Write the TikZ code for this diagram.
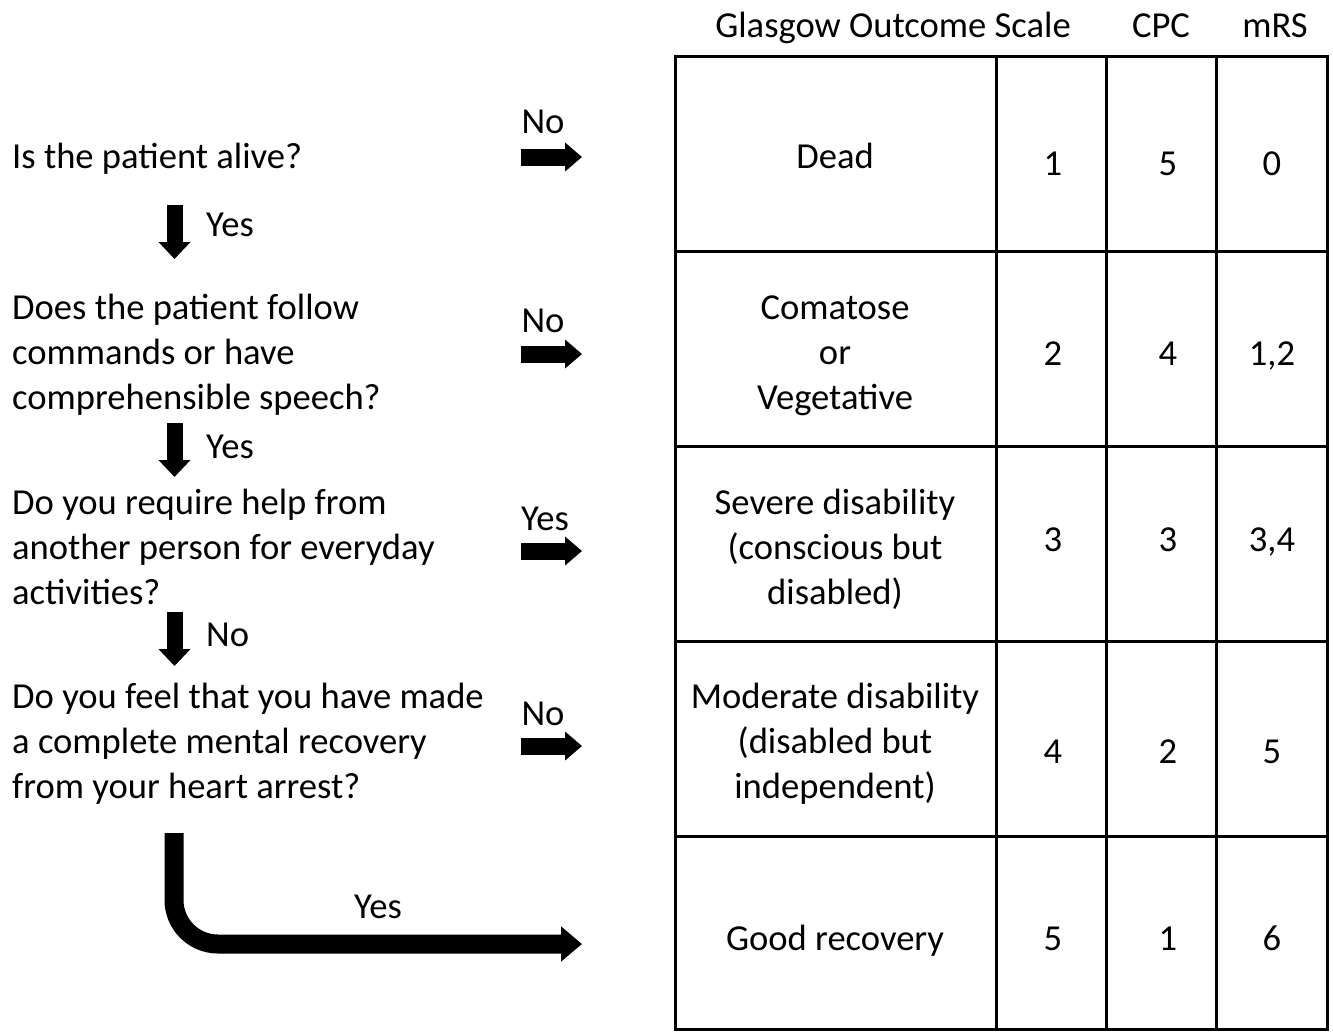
\documentclass[tikz,border=0pt]{standalone}
\usepackage{fontspec}
\setmainfont{Carlito}
\usetikzlibrary{arrows.meta}
\begin{document}
\begin{tikzpicture}[x=1pt,y=-1pt,
  every node/.style={inner sep=0pt, font=\fontsize{36.6}{44.7}\selectfont},
  qtext/.style={anchor=base west, align=left},
  ctext/.style={anchor=base, align=center},
  downarrow/.style={line width=16pt, -{Triangle[width=31pt,length=17pt]}},
  rightarrow/.style={line width=17pt, -{Triangle[width=28pt,length=17pt]}},
  bigarrow/.style={line width=19pt, rounded corners=44pt, -{Triangle[width=34pt,length=21pt]}},
  grid/.style={line width=3pt}]
\useasboundingbox (0,0) rectangle (1333,1031);

% questions (multi-line nodes: base = baseline of last line)
\node[qtext] (q1) at (12,168) {Is the patient alive?};
\node[qtext] (q2) at (12,409) {Does the patient follow\\commands or have\\comprehensible speech?};
\node[qtext] (q3) at (12,604) {Do you require help from\\another person for everyday\\activities?};
\node[qtext] (q4) at (12,798) {Do you feel that you have made\\a complete mental recovery\\from your heart arrest?};

% down arrows
\coordinate (d1s) at (174.5,205); \coordinate (d1e) at (174.5,259);
\coordinate (d2s) at (174.5,423); \coordinate (d2e) at (174.5,477);
\coordinate (d3s) at (174.5,612); \coordinate (d3e) at (174.5,666);
\draw[downarrow] (d1s) -- (d1e);
\draw[downarrow] (d2s) -- (d2e);
\draw[downarrow] (d3s) -- (d3e);
\node[qtext] (l1) at (206,236) {Yes};
\node[qtext] (l2) at (206,458) {Yes};
\node[qtext] (l3) at (206,646) {No};

% right arrows
\coordinate (r1s) at (521,157); \coordinate (r1e) at (582,157);
\coordinate (r2s) at (521,354); \coordinate (r2e) at (582,354);
\coordinate (r3s) at (521,551); \coordinate (r3e) at (582,551);
\coordinate (r4s) at (521,746); \coordinate (r4e) at (582,746);
\draw[rightarrow] (r1s) -- (r1e);
\draw[rightarrow] (r2s) -- (r2e);
\draw[rightarrow] (r3s) -- (r3e);
\draw[rightarrow] (r4s) -- (r4e);
\node[ctext] (n1) at (543,133) {No};
\node[ctext] (n2) at (543,332) {No};
\node[ctext] (n3) at (545,530) {Yes};
\node[ctext] (n4) at (543,725) {No};

% big L arrow
\coordinate (Ls) at (174,833); \coordinate (Le) at (582,944);
\draw[bigarrow] (Ls) |- (Le);
\node[ctext] (ly) at (378,918) {Yes};

% table header
\node[ctext] (h1) at (893,37) {Glasgow Outcome Scale};
\node[ctext] (h2) at (1161,37) {CPC};
\node[ctext] (h3) at (1275,37) {mRS};

% table grid
\draw[grid] (675,56) rectangle (1327,1029);
\foreach \x in {996,1106,1216} \draw[grid] (\x,56) -- (\x,1029);
\foreach \y in {251,446,641,836} \draw[grid] (675,\y) -- (1327,\y);

% table cells
\node[ctext] (c11) at (835,168.5) {Dead};
\node[ctext] (c21) at (835,409) {Comatose\\or\\Vegetative};
\node[ctext] (c31) at (835,604) {Severe disability\\(conscious but\\disabled)};
\node[ctext] (c41) at (835,798) {Moderate disability\\(disabled but\\independent)};
\node[ctext] (c51) at (835,950.5) {Good recovery};

\node[ctext] (c12) at (1053,175.5) {1};
\node[ctext] (c13) at (1168,175.5) {5};
\node[ctext] (c14) at (1272,175.5) {0};
\node[ctext] (c22) at (1053,365.5) {2};
\node[ctext] (c23) at (1168,365.5) {4};
\node[ctext] (c24) at (1272,365.5) {1,2};
\node[ctext] (c32) at (1053,551.5) {3};
\node[ctext] (c33) at (1168,551.5) {3};
\node[ctext] (c34) at (1272,551.5) {3,4};
\node[ctext] (c42) at (1053,763.5) {4};
\node[ctext] (c43) at (1168,763.5) {2};
\node[ctext] (c44) at (1272,763.5) {5};
\node[ctext] (c52) at (1053,950.5) {5};
\node[ctext] (c53) at (1168,950.5) {1};
\node[ctext] (c54) at (1272,950.5) {6};
\end{tikzpicture}
\end{document}
